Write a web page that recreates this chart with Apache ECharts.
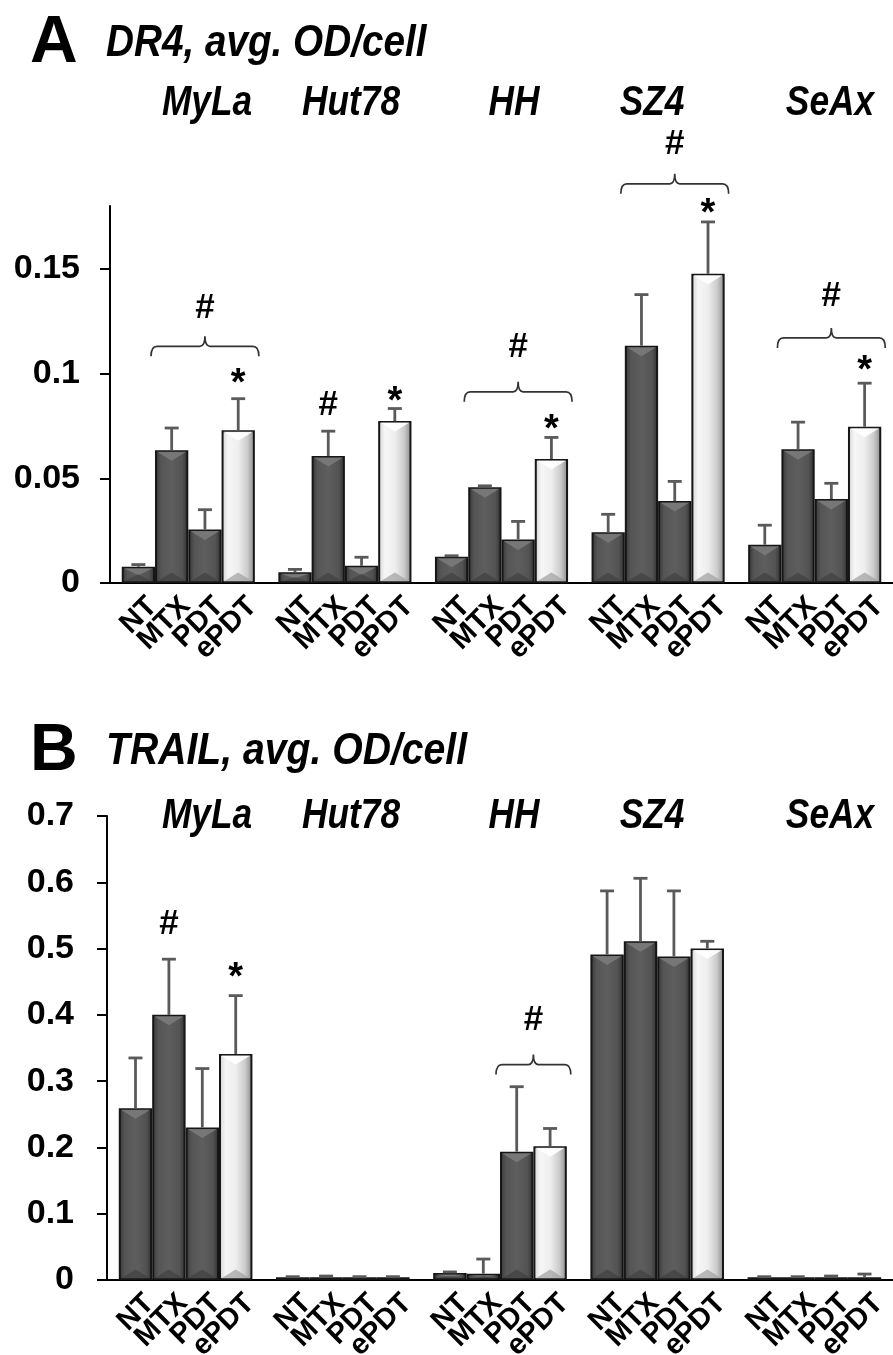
<!DOCTYPE html>
<html>
<head>
<meta charset="utf-8">
<script src="https://cdn.jsdelivr.net/npm/echarts@6/dist/echarts.min.js"></script>
<style>
html,body{margin:0;padding:0;background:#fff;}
#chart{width:893px;height:1355px;}
</style>
</head>
<body>
<div id="chart"></div>
<script>
// ---------- DATA ----------
const cellLines = ['MyLa', 'Hut78', 'HH', 'SZ4', 'SeAx'];
const treatments = ['NT', 'MTX', 'PDT', 'ePDT'];

// Panel A: DR4, avg. OD/cell
const dr4NT   = [0.0078, 0.0051, 0.0125, 0.0242, 0.0183];
const dr4MTX  = [0.0634, 0.0606, 0.0457, 0.1133, 0.0638];
const dr4PDT  = [0.0255, 0.0082, 0.0208, 0.0391, 0.0401];
const dr4ePDT = [0.0729, 0.0773, 0.0592, 0.1476, 0.0746];
const dr4NTErr   = [0.0010, 0.0014, 0.0005, 0.0086, 0.0093];
const dr4MTXErr  = [0.0106, 0.0119, 0.0007, 0.0244, 0.0130];
const dr4PDTErr  = [0.0095, 0.0041, 0.0086, 0.0094, 0.0075];
const dr4ePDTErr = [0.0151, 0.0060, 0.0103, 0.0248, 0.0208];

// Panel B: TRAIL, avg. OD/cell
const trailNT   = [0.259, 0.004, 0.0107, 0.491, 0.004];
const trailMTX  = [0.400, 0.004, 0.0096, 0.511, 0.004];
const trailPDT  = [0.230, 0.004, 0.1936, 0.488, 0.004];
const trailePDT = [0.341, 0.004, 0.2016, 0.500, 0.004];
const trailNTErr   = [0.076, 0.001, 0.0015, 0.096, 0.001];
const trailMTXErr  = [0.084, 0.002, 0.0220, 0.095, 0.001];
const trailPDTErr  = [0.089, 0.001, 0.0980, 0.099, 0.002];
const trailePDTErr = [0.088, 0.001, 0.0270, 0.011, 0.005];

// Axis ticks
const dr4Ticks = [0, 0.05, 0.1, 0.15];
const dr4Max = 0.18;
const trailTicks = [0, 0.1, 0.2, 0.3, 0.4, 0.5, 0.6, 0.7];
const trailMax = 0.7;

// Significance marks: [cell line index, treatment index, value level]
const dr4Stars  = [[0, 3, 0.098], [1, 3, 0.0896], [2, 3, 0.076], [3, 3, 0.1795], [4, 3, 0.1044]];
const dr4Hashes = [[1, 1, 0.085]];
// Braces: [cell line index, first treatment, last treatment, brace level, '#' level]
const dr4Braces = [[0, 1, 3, 0.113, 0.131], [2, 1, 3, 0.0913, 0.1126], [3, 1, 3, 0.1906, 0.2094], [4, 1, 3, 0.117, 0.137]];

const trailStars  = [[0, 3, 0.465]];
const trailHashes = [[0, 1, 0.537]];
const trailBraces = [[2, 2, 3, 0.325, 0.392]];

// ---------- STYLE ----------
const FONT = '"Liberation Sans", Arial, Helvetica, sans-serif';
const BAR_FRAC = 0.85; // 1 - barCategoryGap
const NB = treatments.length;

const darkFill = {type: 'linear', x: 0, y: 0, x2: 1, y2: 0, colorStops: [
  {offset: 0, color: '#363636'}, {offset: 0.18, color: '#555555'},
  {offset: 0.5, color: '#5e5e5e'}, {offset: 0.82, color: '#535353'}, {offset: 1, color: '#2e2e2e'}]};
const lightFill = {type: 'linear', x: 0, y: 0, x2: 1, y2: 0, colorStops: [
  {offset: 0, color: '#d2d2d2'}, {offset: 0.2, color: '#f6f6f6'},
  {offset: 0.5, color: '#eeeeee'}, {offset: 0.78, color: '#cbcbcb'}, {offset: 1, color: '#888888'}]};

function barSeries(name, data, idx, s) {
  return {
    type: 'bar', name: name, xAxisIndex: idx, yAxisIndex: idx, data: data,
    barGap: '0%', barCategoryGap: '15%',
    itemStyle: {color: s === 3 ? lightFill : darkFill, borderColor: '#161616', borderWidth: 2},
    label: {
      show: true, position: 'bottom', distance: 6, rotate: 45,
      align: 'right', verticalAlign: 'middle', offset: [1, 19],
      formatter: name, color: '#000', fontFamily: FONT, fontWeight: 'bold', fontSize: 29
    },
    emphasis: {disabled: true}, silent: true, z: 2
  };
}

function barX(api, g, s) {
  const band = api.size([1, 0])[0];
  const bw = band * BAR_FRAC / NB;
  return {x: api.coord([g, 0])[0] + (s - (NB - 1) / 2) * bw, bw: bw};
}

function errSeries(means, errs, idx) {
  const data = [];
  means.forEach((arr, s) => arr.forEach((v, g) => data.push([g, v, errs[s][g], s])));
  return {
    type: 'custom', xAxisIndex: idx, yAxisIndex: idx, data: data, clip: false, silent: true, z: 3,
    encode: {x: 0, y: 1},
    renderItem: function (params, api) {
      const g = api.value(0), v = api.value(1), e = api.value(2), s = api.value(3);
      const p = barX(api, g, s);
      const base = api.coord([g, 0])[1];
      const topY = api.coord([g, v])[1];
      const errY = api.coord([g, v + e])[1];
      const h = base - topY;
      const ch = Math.min(9, h / 2 - 1);
      const l = p.x - p.bw / 2 + 2, r = p.x + p.bw / 2 - 2;
      const children = [];
      if (ch > 1.5) {
        children.push({type: 'polygon', shape: {points: [[l, topY + 1.5], [r, topY + 1.5], [p.x, topY + 1.5 + ch]]},
          style: {fill: s === 3 ? '#ffffff' : '#7a7a7a', opacity: 0.9}});
        children.push({type: 'polygon', shape: {points: [[l, base - 1.5], [r, base - 1.5], [p.x, base - 1.5 - ch]]},
          style: {fill: s === 3 ? '#a0a0a0' : '#404040', opacity: 0.7}});
      }
      children.push({type: 'line', shape: {x1: p.x, y1: topY, x2: p.x, y2: errY},
        style: {stroke: '#5a5a5a', lineWidth: 2.8}});
      children.push({type: 'line', shape: {x1: p.x - 7, y1: errY, x2: p.x + 7, y2: errY},
        style: {stroke: '#5a5a5a', lineWidth: 2.8}});
      return {type: 'group', children: children};
    }
  };
}

function markSeries(marks, sym, idx, size) {
  return {
    type: 'custom', xAxisIndex: idx, yAxisIndex: idx, data: marks, clip: false, silent: true, z: 4,
    encode: {x: 0, y: 2},
    renderItem: function (params, api) {
      const g = api.value(0), s = api.value(1), y = api.value(2);
      const p = barX(api, g, s);
      const py = api.coord([g, y])[1];
      return {type: 'text', x: p.x, y: py + (sym === '*' ? 7 : 0),
        style: {text: sym, font: 'bold ' + size + 'px ' + FONT, fill: '#000',
          textAlign: 'center', textVerticalAlign: 'middle', align: 'center', verticalAlign: 'middle'}};
    }
  };
}

function braceSeries(braces, idx) {
  return {
    type: 'custom', xAxisIndex: idx, yAxisIndex: idx, data: braces, clip: false, silent: true, z: 4,
    encode: {x: 0, y: 3},
    renderItem: function (params, api) {
      const g = api.value(0), s0 = api.value(1), s1 = api.value(2), y = api.value(3), hy = api.value(4);
      const a = barX(api, g, s0), b = barX(api, g, s1);
      const x0 = a.x - a.bw / 2 - 4, x1 = b.x + b.bw / 2 + 4, xc = (x0 + x1) / 2;
      const py = api.coord([g, y])[1];
      const hpy = api.coord([g, hy])[1];
      const d = 'M' + x0 + ' ' + (py + 10) + ' Q' + x0 + ' ' + py + ' ' + (x0 + 6) + ' ' + py +
        ' L' + (xc - 5) + ' ' + py + ' Q' + xc + ' ' + py + ' ' + xc + ' ' + (py - 10) +
        ' Q' + xc + ' ' + py + ' ' + (xc + 5) + ' ' + py +
        ' L' + (x1 - 6) + ' ' + py + ' Q' + x1 + ' ' + py + ' ' + x1 + ' ' + (py + 10);
      return {type: 'group', children: [
        {type: 'path', shape: {pathData: d}, style: {fill: null, stroke: '#333', lineWidth: 1.7}},
        {type: 'text', x: xc, y: hpy,
          style: {text: '#', font: 'bold 35px ' + FONT, fill: '#000',
            textAlign: 'center', textVerticalAlign: 'middle', align: 'center', verticalAlign: 'middle'}}
      ]};
    }
  };
}

function yAxisCfg(idx, max, ticks, interval, margin) {
  return {
    type: 'value', gridIndex: idx, min: 0, max: max, interval: interval,
    splitLine: {show: false},
    axisLine: {show: true, lineStyle: {color: '#000', width: 2}},
    axisTick: {show: true, length: 10, customValues: ticks, lineStyle: {color: '#000', width: 2}},
    axisLabel: {show: true, customValues: ticks, margin: margin, color: '#000', fontFamily: FONT,
      fontWeight: 'bold', fontSize: 34, formatter: v => String(+v.toFixed(3))}
  };
}
function xAxisCfg(idx) {
  return {
    type: 'category', gridIndex: idx, data: cellLines,
    axisLine: {show: true, lineStyle: {color: '#000', width: 2}},
    axisTick: {show: false}, axisLabel: {show: false}, splitLine: {show: false}
  };
}

const dr4Means = [dr4NT, dr4MTX, dr4PDT, dr4ePDT];
const dr4Errs = [dr4NTErr, dr4MTXErr, dr4PDTErr, dr4ePDTErr];
const trailMeans = [trailNT, trailMTX, trailPDT, trailePDT];
const trailErrs = [trailNTErr, trailMTXErr, trailPDTErr, trailePDTErr];

const series = [];
dr4Means.forEach((d, s) => series.push(barSeries(treatments[s], d, 0, s)));
trailMeans.forEach((d, s) => series.push(barSeries(treatments[s], d, 1, s)));
series.push(errSeries(dr4Means, dr4Errs, 0));
series.push(errSeries(trailMeans, trailErrs, 1));
series.push(markSeries(dr4Stars, '*', 0, 38));
series.push(markSeries(dr4Hashes, '#', 0, 35));
series.push(braceSeries(dr4Braces, 0));
series.push(markSeries(trailStars, '*', 1, 38));
series.push(markSeries(trailHashes, '#', 1, 35));
series.push(braceSeries(trailBraces, 1));

// header texts (condensed look via horizontal scaling)
const titleFont = 'italic bold 45px ' + FONT;
const nameFont = 'italic bold 42px ' + FONT;
const namePosA = [207, 351, 514, 652, 830];
function txt(text, x, y, font, align, sx) {
  return {type: 'text', x: x, y: y, scaleX: sx || 1, scaleY: 1, silent: true,
    style: {text: text, font: font, fill: '#000', textAlign: align || 'left', textVerticalAlign: 'middle'}};
}
const graphics = [
  txt('A', 30, 44, 'bold 66px ' + FONT),
  txt('DR4, avg. OD/cell', 106, 44, titleFont, 'left', 0.86),
  txt('B', 30, 752, 'bold 66px ' + FONT),
  txt('TRAIL, avg. OD/cell', 106, 752, titleFont, 'left', 0.87)
];
cellLines.forEach((n, i) => {
  graphics.push(txt(n, namePosA[i], 103, nameFont, 'center', 0.84));
  graphics.push(txt(n, namePosA[i], 816, nameFont, 'center', 0.84));
});

const chart = echarts.init(document.getElementById('chart'), null, {renderer: 'canvas'});
chart.setOption({
  animation: false,
  backgroundColor: '#fff',
  grid: [
    {left: 110, top: 206, width: 795, height: 377, containLabel: false},
    {left: 107, top: 816, width: 800, height: 464, containLabel: false}
  ],
  xAxis: [xAxisCfg(0), xAxisCfg(1)],
  yAxis: [yAxisCfg(0, dr4Max, dr4Ticks, 0.05, 30), yAxisCfg(1, trailMax, trailTicks, 0.1, 33)],
  graphic: graphics,
  series: series
});
</script>
</body>
</html>
